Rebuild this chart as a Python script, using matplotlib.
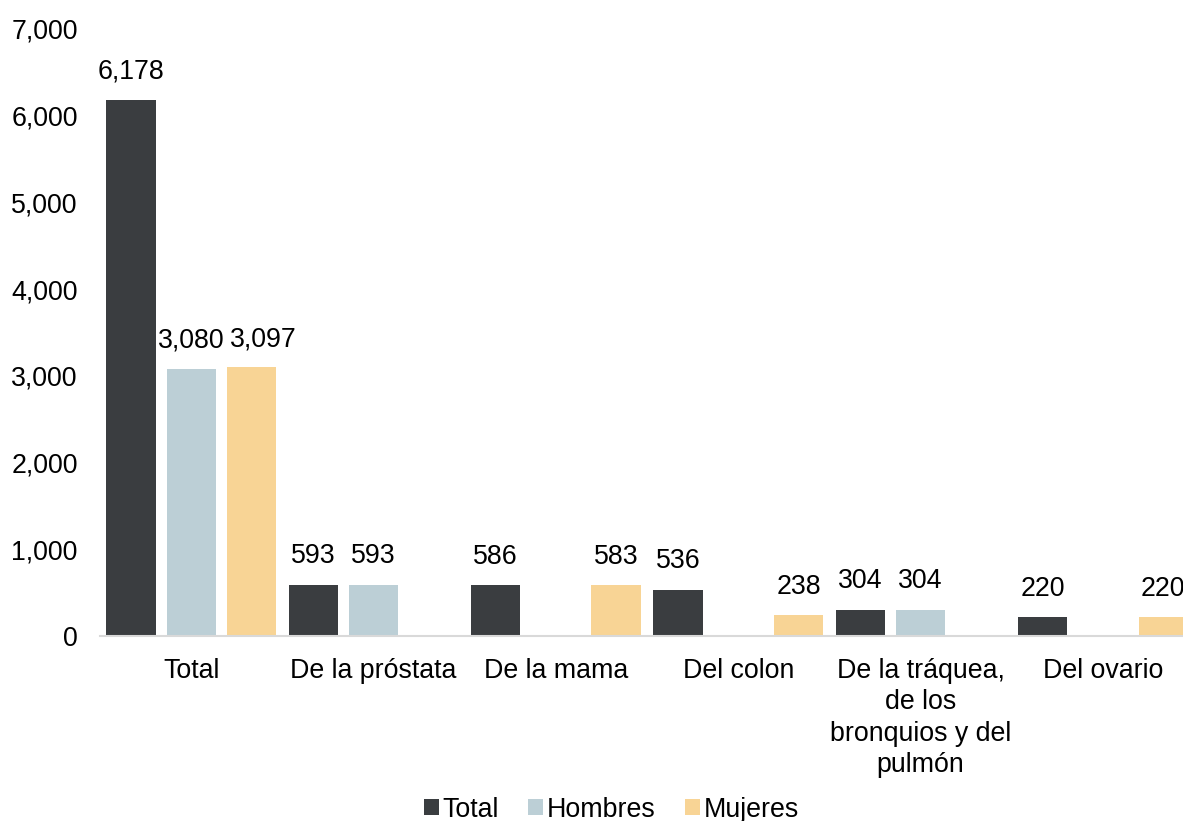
import matplotlib
matplotlib.use("Agg")
import matplotlib.pyplot as plt
import numpy as np

plt.rcParams['font.family'] = ['Liberation Sans', 'DejaVu Sans']

# data (nan = no bar shown)
categories = ["Total", "De la próstata", "De la mama", "Del colon",
              "De la tráquea,\nde los\nbronquios y del\npulmón", "Del ovario"]
total = [6178, 593, 586, 536, 304, 220]
hombres = [3080, 593, np.nan, np.nan, 304, np.nan]
mujeres = [3097, np.nan, 583, 238, np.nan, 220]

series = [("Total", total, "#3A3D40"),
          ("Hombres", hombres, "#BCCFD6"),
          ("Mujeres", mujeres, "#F8D495")]

fig = plt.figure(figsize=(11.83, 8.21), dpi=100)
ax = fig.add_axes([0.0845, 0.2253, 0.925, 0.7394])

x = np.arange(len(categories))
width = 0.27
step = 0.33
fs = 19.3

labels_by_series = []
for i, (name, vals, col) in enumerate(series):
    vals = np.array(vals, dtype=float)
    pos = x + (i - 1) * step
    mask = ~np.isnan(vals)
    bars = ax.bar(pos[mask], vals[mask], width, color=col, label=name)
    anns = ax.bar_label(bars, labels=[f"{v:,.0f}" for v in vals[mask]],
                        padding=11, fontsize=fs)
    labels_by_series.append(anns)

# nudge the Mujeres label of the first group so it doesn't overlap (as in the original)
labels_by_series[2][0].xyann = (9, 11)

ax.set_xlim(-0.5, len(categories) - 0.5)
ax.set_ylim(0, 7000)
ax.set_yticks(np.arange(0, 7001, 1000))
ax.set_yticklabels([f"{v:,}" for v in range(0, 7001, 1000)], fontsize=fs)
ax.set_xticks(x)
ax.set_xticklabels(categories, fontsize=fs, linespacing=1.26)
ax.tick_params(axis='both', length=0)
ax.tick_params(axis='y', pad=16)
ax.tick_params(axis='x', pad=16)

for s in ['top', 'right', 'left']:
    ax.spines[s].set_visible(False)
ax.spines['bottom'].set_color('#D9D9D9')
ax.spines['bottom'].set_linewidth(1.5)

fig.legend(loc='center', bbox_to_anchor=(0.517, 0.014), ncol=3,
           frameon=False, fontsize=fs, handlelength=0.55, handleheight=0.55,
           handletextpad=0.15, columnspacing=1.1)

fig.savefig("out.png", dpi=100)
